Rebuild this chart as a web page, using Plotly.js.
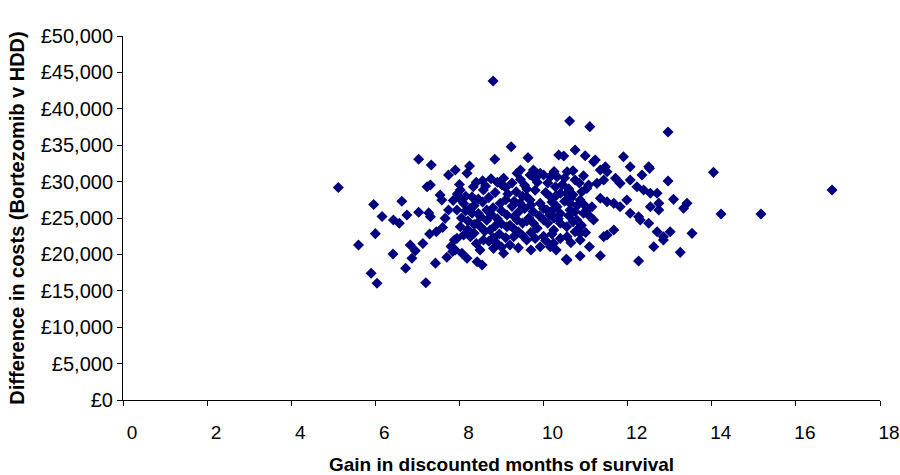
<!DOCTYPE html>
<html>
<head>
<meta charset="utf-8">
<script src="https://cdn.plot.ly/plotly-3.0.1.min.js"></script>
<style>html,body{margin:0;padding:0;background:#fff;}#chart{width:900px;height:475px;}</style>
</head>
<body>
<div id="chart"></div>
<script>
// Gain in discounted months of survival (x) and difference in costs in £ (y)
const gainMonths = [
  5.12, 5.60, 5.90, 6.04, 5.96, 6.00, 6.16, 6.42, 6.43, 6.57, 6.63, 6.75, 6.72, 6.87, 6.83, 6.95, 7.13,
  7.03, 7.33, 7.03, 7.27, 7.31, 7.23, 7.31, 7.54, 7.58, 7.20, 7.43, 7.29, 7.45, 7.60, 7.70, 7.66, 7.74,
  7.74, 7.90, 7.80, 7.88, 7.84,
  7.94, 7.94, 7.90, 8.06, 8.18, 8.02, 8.02, 8.18, 8.24, 8.33, 8.30, 8.26, 8.10, 8.42, 8.42, 8.54, 8.49,
  8.57, 8.57, 8.65, 8.73, 8.81, 8.80, 8.84, 8.89, 8.97, 9.01, 9.05, 9.05,
  9.13, 9.13, 9.23, 9.29, 9.37, 9.37, 9.44, 9.45, 9.60, 9.63, 9.68, 9.68, 9.76, 9.76, 9.92, 9.92, 9.92,
  10.00, 10.00, 10.08, 10.16, 10.16, 10.24, 10.28, 10.32, 10.36, 10.48, 10.54, 10.62, 10.75, 10.87,
  11.10, 12.96, 14.04, 16.86, 12.96, 12.52, 13.09, 13.41, 13.33, 14.22, 15.17, 13.53, 13.25, 12.26, 12.62,
  11.35, 11.09, 11.51, 11.67, 12.70, 12.85, 13.01, 10.99, 11.23, 11.47, 11.51, 11.90, 12.06, 12.34, 12.50,
  11.71, 11.82, 12.06, 12.22, 12.38, 12.54, 12.70, 11.07, 10.91, 11.35, 11.51, 11.67, 11.82, 11.98, 12.06,
  12.26, 12.50, 12.54, 12.74, 12.74, 11.15, 11.19, 10.95, 10.87, 10.87,
  10.32, 10.56, 10.75, 11.03, 11.27, 11.43, 10.16, 10.40, 10.63, 10.87, 11.03, 11.19, 11.35,
  10.63, 10.40, 10.79, 11.11, 12.30, 10.24, 10.56, 10.87, 11.43, 12.85, 10.56,
  8.00, 8.15, 8.40, 8.45, 8.62, 8.70, 8.85, 8.90, 9.15, 9.25, 9.35, 9.55, 9.50, 9.80, 9.85, 10.05, 10.10,
  10.45, 10.60, 10.70, 10.85,
  8.10, 8.35, 8.55, 8.80, 9.00, 9.25, 9.40, 9.55, 9.75, 9.90, 10.15, 10.40, 10.50, 10.75,
  8.05, 8.20, 8.50, 8.65, 8.90, 9.00, 9.20, 9.50, 9.65, 9.85, 10.10, 10.35, 10.55, 10.70,
  8.20, 8.35, 8.60, 8.95, 9.10, 9.40, 9.50, 9.70, 10.00, 10.20, 10.40, 10.65,
  8.40, 8.70, 9.00, 9.20, 9.40, 9.70, 10.05, 10.30,
  7.95, 7.85, 8.00,
  8.25, 8.45, 8.75, 9.10, 9.30, 9.60, 9.70, 10.00, 10.20, 10.30, 10.55, 10.65, 10.80, 10.95, 10.20,
  9.60, 9.45, 9.80, 10.25, 10.50, 10.70, 10.95, 9.10, 8.75, 8.55, 8.30, 8.15, 8.35, 8.85, 9.30,
  9.60, 10.25, 10.60, 10.90, 11.00, 10.75, 9.80, 9.30, 8.80, 8.50
];
const costDifference = [
  29200, 21300, 17400, 16050, 26850, 22850, 25200, 20050, 24720, 24270, 27300, 25410, 18090, 19460, 21300, 20500, 21500,
  33060, 32280, 25800, 25700, 25180, 29300, 29530, 28160, 27470, 16100, 18800, 22800, 23100, 23700, 19600, 24950, 26100,
  30900, 31590, 21100, 21980, 20400,
  26100, 22200, 20600, 20150, 19460, 23810, 28850, 31140, 32140, 29300, 25640, 22440, 22660, 24270, 19000, 18540, 20600,
  28850, 21980, 26100, 23350, 20830, 43820, 33060, 21520, 27010, 29530, 30450, 20150,
  25410, 23810, 34800, 22440, 31140, 24730, 27010, 31590, 21980, 33290, 30910, 27470, 24270, 31590, 31140, 27010, 21060,
  24730, 30900, 26100, 30680, 21060, 23350, 29300, 26560, 33650, 33520, 19320, 38320, 34340, 19780,
  37550, 36810, 31270, 28840, 30080, 31820, 27560, 27010, 26330, 25550, 25550, 22890, 20280, 19090, 21060,
  19820, 21060, 22660, 23350, 23120, 22430, 23120, 33560, 32960, 32050, 31360, 33420, 32050, 30900, 32050,
  30450, 29760, 30220, 29300, 28840, 28390, 28390, 29530, 28610, 27700, 27240, 27010, 26550, 27470, 25640,
  25180, 24270, 26550, 26100, 27010, 26550, 24720, 25640, 23810, 21980,
  30680, 31360, 30220, 29070, 29760, 30220, 27930, 28390, 27010, 27470, 26100, 32740, 31590,
  26100, 24270, 24730, 25180, 24730, 21520, 22440, 22890, 22440, 21980, 19230,
  29600, 28000, 29900, 27600, 29400, 27800, 28500, 29900, 28300, 29800, 28600, 29500, 28000, 28800, 29900, 28500, 29800,
  29600, 29000, 28200, 29800,
  27000, 26700, 27200, 26400, 26000, 26600, 25800, 26300, 25900, 25300, 25400, 25600, 27300, 25900,
  25000, 24600, 25200, 24700, 24900, 24200, 24000, 24300, 25000, 23600, 24300, 24900, 23800, 24500,
  23400, 22900, 23200, 22800, 22300, 23100, 22600, 23000, 22500, 22800, 22200, 21600,
  21500, 21800, 21000, 21300, 20900, 20600, 21900, 20600,
  28300, 27400, 27700,
  26300, 25600, 25500, 27500, 27300, 27900, 26800, 26300, 27200, 28100, 28400, 27700, 26700, 26900, 26000,
  29000, 30300, 30400, 31400, 30500, 31500, 30800, 29200, 30400, 30100, 27900, 26000, 24100, 23900, 25200,
  24600, 25000, 25300, 24000, 23000, 23100, 22200, 23500, 22300, 23800
];
const xTickVals = [0, 2, 4, 6, 8, 10, 12, 14, 16, 18];
const yTickVals = [0, 5000, 10000, 15000, 20000, 25000, 30000, 35000, 40000, 45000, 50000];
const yTickText = ['\u00a30', '\u00a35,000', '\u00a310,000', '\u00a315,000', '\u00a320,000', '\u00a325,000',
                   '\u00a330,000', '\u00a335,000', '\u00a340,000', '\u00a345,000', '\u00a350,000'];

const FONT = '"Liberation Sans", Arial, sans-serif';

const trace = {
  type: 'scatter',
  mode: 'markers',
  x: gainMonths,
  y: costDifference,
  marker: { symbol: 'diamond', size: 8.5, color: '#000080', line: { width: 0 } },
  hoverinfo: 'x+y',
  showlegend: false
};

const layout = {
  width: 900,
  height: 475,
  paper_bgcolor: '#ffffff',
  plot_bgcolor: '#ffffff',
  margin: { l: 123, r: 20, t: 36, b: 75 },
  font: { family: FONT, color: '#000000', size: 19 },
  xaxis: {
    range: [0, 18],
    tickmode: 'array',
    tickvals: xTickVals,
    ticktext: xTickVals.map(String),
    showgrid: false,
    zeroline: false,
    showline: true,
    linecolor: '#000000',
    linewidth: 1,
    ticks: 'outside',
    ticklen: 5,
    tickcolor: '#000000',
    ticklabelstandoff: 10,
    ticklabelshift: 9,
    tickfont: { family: FONT, size: 19, color: '#000000' },
    title: { text: '<b>Gain in discounted months of survival</b>', font: { family: FONT, size: 19, color: '#000000' }, standoff: 16 },
    automargin: false
  },
  yaxis: {
    range: [0, 50000],
    tickmode: 'array',
    tickvals: yTickVals,
    ticktext: yTickText,
    showgrid: false,
    zeroline: false,
    showline: true,
    linecolor: '#000000',
    linewidth: 1,
    ticks: 'outside',
    ticklen: 5,
    tickcolor: '#000000',
    tickfont: { family: FONT, size: 20, color: '#000000' },
    title: { text: '<b>Difference in costs (Bortezomib v HDD)</b>', font: { family: FONT, size: 20, color: '#000000' }, standoff: 10 },
    automargin: false
  }
};

Plotly.newPlot('chart', [trace], layout, { displayModeBar: false, staticPlot: true });
</script>
</body>
</html>
